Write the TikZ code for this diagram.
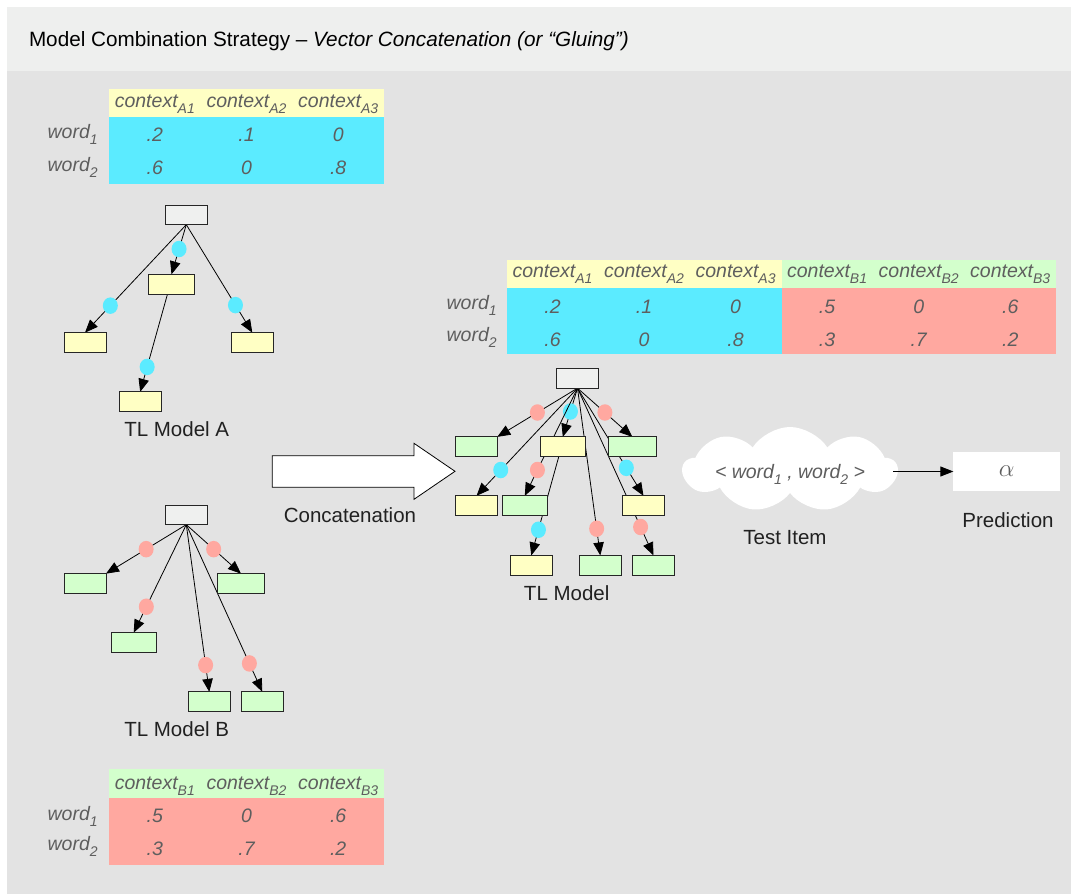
\documentclass[tikz,border=0pt]{standalone}
\usepackage{fontspec}
\setmainfont{Liberation Sans}
\usetikzlibrary{arrows.meta,shapes.geometric,shapes.symbols,calc}
\pgfdeclarelayer{bg}
\pgfdeclarelayer{edges}
\pgfsetlayers{bg,edges,main}
\definecolor{hdr}{HTML}{EEEFEE}
\definecolor{panel}{HTML}{E3E3E3}
\definecolor{yel}{HTML}{FFFFC4}
\definecolor{cyanb}{HTML}{5BEBFF}
\definecolor{pinkr}{HTML}{FFA8A0}
\definecolor{grn}{HTML}{D3FFCC}
\definecolor{rootg}{HTML}{EFF0EF}
\definecolor{txtg}{HTML}{5E5E5E}
\newcommand\lowsub[1]{\raisebox{-0.32em}{\fontsize{14}{14}\selectfont #1}}
\begin{document}
\begin{tikzpicture}[x=1pt,y=-1pt,
 every node/.style={inner sep=0pt, outer sep=0pt},
 tb/.style={font=\fontsize{19.5}{22}\selectfont\itshape, text=txtg, anchor=base},
 wl/.style={font=\fontsize{19.5}{22}\selectfont\itshape, text=txtg, anchor=base east},
 lbl/.style={font=\fontsize{20.5}{24}\selectfont, text=black!87},
 tbox/.style={draw=black!85, line width=0.9pt, minimum height=19.7pt, minimum width=42pt},
 ybox/.style={tbox, fill=yel},
 gbox/.style={tbox, fill=grn},
 rbox/.style={tbox, fill=rootg},
 tlink/.style={line width=0.8pt, -{Triangle[length=13pt,width=10.5pt]}},
 bdot/.style={ellipse, fill=cyanb, minimum width=15pt, minimum height=16.5pt},
 pdot/.style={ellipse, fill=pinkr, minimum width=15pt, minimum height=16.5pt},
]
\useasboundingbox (0,0) rectangle (1071,894);
\begin{pgfonlayer}{bg}
\fill[white] (0,0) rectangle (1071,894);
\fill[hdr] (7,7) rectangle (1071,71);
\fill[panel] (7,71) rectangle (1071,894);
\end{pgfonlayer}

% title
\node[anchor=base west, font=\fontsize{20.7}{24}\selectfont] (title) at (29,46.7)
 {Model Combination Strategy – \textit{Vector Concatenation (or “Gluing”)}};

% ---------- Table A ----------
\fill[yel] (109,89) rectangle (384,117);
\fill[cyanb] (109,117) rectangle (384,184);
\node[tb] (tah1) at (154.8,107.3) {context\lowsub{A1}};
\node[tb] (tah2) at (246.5,107.3) {context\lowsub{A2}};
\node[tb] (tah3) at (338.2,107.3) {context\lowsub{A3}};
\node[wl] (taw1) at (97.7,138.3) {word\lowsub{1}};
\node[wl] (taw2) at (97.7,171) {word\lowsub{2}};
\node[tb] (ta11) at (154.8,141.7) {.2};
\node[tb] (ta12) at (246.5,141.7) {.1};
\node[tb] (ta13) at (338.2,141.7) {0};
\node[tb] (ta21) at (154.8,174.3) {.6};
\node[tb] (ta22) at (246.5,174.3) {0};
\node[tb] (ta23) at (338.2,174.3) {.8};

% ---------- Table B ----------
\fill[grn] (109,769.3) rectangle (384,797.7);
\fill[pinkr] (109,797.7) rectangle (384,865);
\node[tb] (tbh1) at (154.8,789.3) {context\lowsub{B1}};
\node[tb] (tbh2) at (246.5,789.3) {context\lowsub{B2}};
\node[tb] (tbh3) at (338.2,789.3) {context\lowsub{B3}};
\node[wl] (tbw1) at (97.7,820) {word\lowsub{1}};
\node[wl] (tbw2) at (97.7,850.5) {word\lowsub{2}};
\node[tb] (tb11) at (154.8,822.7) {.5};
\node[tb] (tb12) at (246.5,822.7) {0};
\node[tb] (tb13) at (338.2,822.7) {.6};
\node[tb] (tb21) at (154.8,855) {.3};
\node[tb] (tb22) at (246.5,855) {.7};
\node[tb] (tb23) at (338.2,855) {.2};

% ---------- Combined table ----------
\fill[yel] (506.7,260) rectangle (781.7,287.7);
\fill[grn] (781.7,260) rectangle (1056,287.7);
\fill[cyanb] (506.7,287.7) rectangle (781.7,354.3);
\fill[pinkr] (781.7,287.7) rectangle (1056,354.3);
\node[tb] (tch1) at (552.5,277.3) {context\lowsub{A1}};
\node[tb] (tch2) at (644.0,277.3) {context\lowsub{A2}};
\node[tb] (tch3) at (735.6,277.3) {context\lowsub{A3}};
\node[tb] (tch4) at (827.1,277.3) {context\lowsub{B1}};
\node[tb] (tch5) at (918.7,277.3) {context\lowsub{B2}};
\node[tb] (tch6) at (1010.2,277.3) {context\lowsub{B3}};
\node[wl] (tcw1) at (496.7,309.3) {word\lowsub{1}};
\node[wl] (tcw2) at (496.7,341.7) {word\lowsub{2}};
\node[tb] (tc11) at (552.5,313.3) {.2};
\node[tb] (tc12) at (644.0,313.3) {.1};
\node[tb] (tc13) at (735.6,313.3) {0};
\node[tb] (tc14) at (827.1,313.3) {.5};
\node[tb] (tc15) at (918.7,313.3) {0};
\node[tb] (tc16) at (1010.2,313.3) {.6};
\node[tb] (tc21) at (552.5,346) {.6};
\node[tb] (tc22) at (644.0,346) {0};
\node[tb] (tc23) at (735.6,346) {.8};
\node[tb] (tc24) at (827.1,346) {.3};
\node[tb] (tc25) at (918.7,346) {.7};
\node[tb] (tc26) at (1010.2,346) {.2};

% ---------- Tree A ----------
\node[rbox] (rA) at (186.3,214.8) {};
\node[ybox, minimum width=45.6pt] (aM) at (171.5,284.2) {};
\node[ybox] (aL) at (85,342.5) {};
\node[ybox] (aR) at (252.3,342.5) {};
\node[ybox] (aB) at (140.2,401.7) {};
\node[lbl] (labA) at (176.7,429.5) {TL Model A};

% ---------- Tree B ----------
\node[rbox] (rB) at (186.3,514.8) {};
\node[gbox] (bL) at (85,583.5) {};
\node[gbox, minimum width=47.4pt] (bR) at (241,583.5) {};
\node[gbox, minimum width=45.3pt] (bM) at (133.7,642.5) {};
\node[gbox] (b1) at (209.3,701.7) {};
\node[gbox] (b2) at (262.3,701.7) {};
\node[lbl] (labB) at (176.7,729.5) {TL Model B};

% ---------- Combined tree ----------
\node[rbox, minimum width=41.6pt] (rC) at (577.5,378.3) {};
\node[gbox, minimum width=41.6pt] (cG1) at (476.5,446.7) {};
\node[ybox, minimum width=45pt] (cYM) at (562.8,446.7) {};
\node[gbox, minimum width=47.3pt] (cG2) at (632.3,446.7) {};
\node[ybox, minimum width=41.6pt] (cYL) at (476.5,505.7) {};
\node[gbox, minimum width=45pt] (cGM) at (524.8,505.7) {};
\node[ybox, minimum width=41.6pt] (cYR) at (643.5,505.7) {};
\node[ybox] (cYB) at (531.3,565.3) {};
\node[gbox] (cGa) at (600.3,565.3) {};
\node[gbox, minimum width=41.6pt] (cGb) at (653.5,565.3) {};
\node[lbl] (labC) at (566.7,593.3) {TL Model};

\begin{pgfonlayer}{edges}
% tree A
\draw[tlink] (rA.south) -- node[bdot,pos=.49] (da1) {} (aM.north);
\draw[tlink] (rA.south) -- node[bdot,pos=.75] (da2) {} (aL.north);
\draw[tlink] (rA.south) -- node[bdot,pos=.745] (da3) {} (aR.north);
\draw[tlink] ($(aM.south)+(-4,0)$) -- node[bdot,pos=.745] (da4) {} (aB.north);
% tree B
\draw[tlink] (rB.south) -- node[pdot,pos=.5] (db1) {} (bL.north east);
\draw[tlink] (rB.south) -- node[pdot,pos=.5] (db2) {} (bR.north);
\draw[tlink] (rB.south) -- node[pdot,pos=.76] (db3) {} (bM.north);
\draw[tlink] (rB.south) -- node[pdot,pos=.84] (db4) {} (b1.north);
\draw[tlink] (rB.south) -- node[pdot,pos=.83] (db5) {} (b2.north);
% combined tree
\draw[tlink] (rC.south) -- node[pdot,pos=.5] (dc1) {} (cG1.north east);
\draw[tlink] (rC.south) -- node[bdot,pos=.48] (dc2) {} (cYM.north);
\draw[tlink] (rC.south) -- node[pdot,pos=.5] (dc3) {} (cG2.north);
\draw[tlink] (rC.south) -- node[bdot,pos=.76] (dc4) {} (cYL.north);
\draw[tlink] (rC.south) -- node[pdot,pos=.76] (dc5) {} (cGM.north);
\draw[tlink] (rC.south) -- node[bdot,pos=.74] (dc6) {} (cYR.north);
\draw[tlink] ($(cYM.south)+(-4,0)$) -- node[bdot,pos=.74] (dc7) {} (cYB.north);
\draw[tlink] (rC.south) -- node[pdot,pos=.84] (dc8) {} (cGa.north);
\draw[tlink] (rC.south) -- node[pdot,pos=.83] (dc9) {} (cGb.north);
\end{pgfonlayer}

% ---------- Concatenation arrow ----------
\draw[fill=white, line width=0.8pt, line join=miter] (272.3,455.7) -- (414,455.7) -- (414,443.3) -- (455,471.3)
  -- (414,499.3) -- (414,487.3) -- (272.3,487.3) -- cycle;
\node[lbl] (labCat) at (350,515) {Concatenation};

% ---------- Test item and prediction ----------
\node[cloud, cloud puffs=9, cloud puff arc=115, aspect=2.5, fill=white,
      minimum width=214pt, minimum height=85pt] (ctest) at (790,469.5) {};
\node[font=\fontsize{19.5}{22}\selectfont\itshape, text=txtg, anchor=base] (ttext) at (790,478)
  {< word\lowsub{1} , word\lowsub{2} >};
\node[lbl] (labTest) at (785,538) {Test Item};
\node[fill=white, minimum width=106.7pt, minimum height=38.4pt] (pred) at (1006.7,471.5)
  {\color{txtg}\fontsize{25}{25}\selectfont$\alpha$};
\node[lbl] (labPred) at (1008,520) {Prediction};
\draw[line width=0.9pt, shorten <=-5pt, -{Triangle[length=13pt,width=10pt]}] (ctest.east |- pred.west) -- (pred.west);
\end{tikzpicture}
\end{document}
